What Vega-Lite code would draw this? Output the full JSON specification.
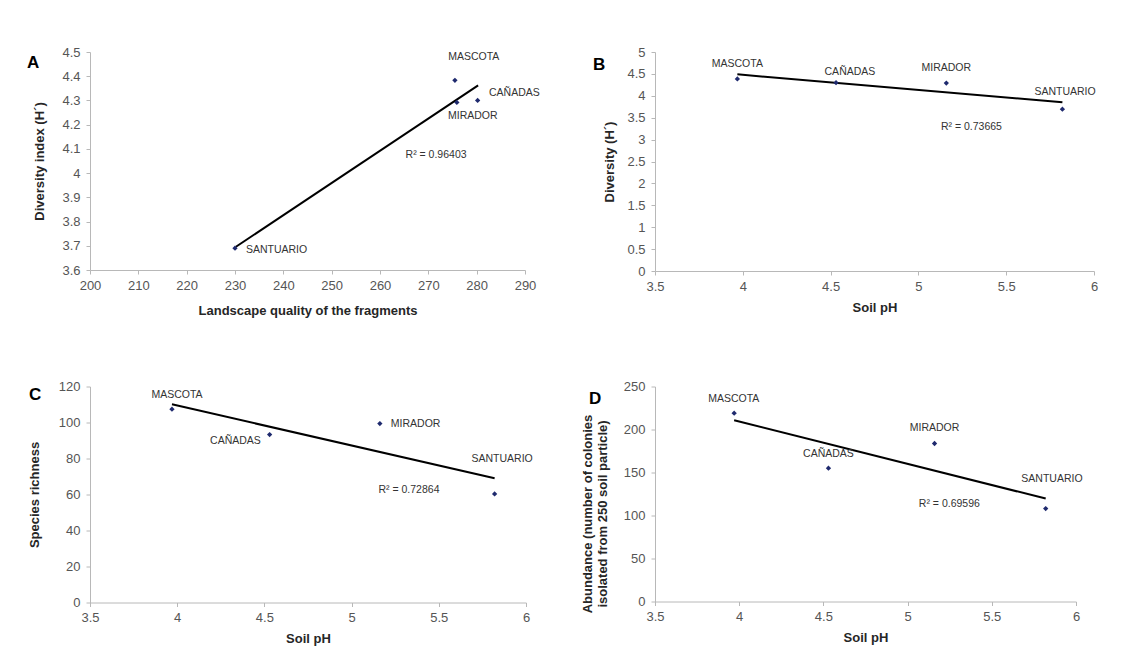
{
  "$schema": "https://vega.github.io/schema/vega-lite/v6.json",
  "background": "white",
  "padding": {"left": 27, "top": 46, "right": 5, "bottom": 5},
  "datasets": {
    "ptsA": [{"site":"MASCOTA","x":275.5,"y":4.383},{"site":"MIRADOR","x":275.9,"y":4.292},{"site":"CAÑADAS","x":280.2,"y":4.30},{"site":"SANTUARIO","x":230.0,"y":3.69}],
    "labA": [{"label":"MASCOTA","x":279.4,"y":4.479},{"label":"CAÑADAS","x":287.8,"y":4.332},{"label":"MIRADOR","x":279.2,"y":4.234},{"label":"SANTUARIO","x":238.6,"y":3.684},{"label":"R² = 0.96403","x":271.6,"y":4.074}],
    "trendA": [{"x":230.2,"y":3.696},{"x":280.3,"y":4.362}],
    "ptsB": [{"site":"MASCOTA","x":3.969,"y":4.386},{"site":"CAÑADAS","x":4.531,"y":4.30},{"site":"MIRADOR","x":5.159,"y":4.29},{"site":"SANTUARIO","x":5.82,"y":3.695}],
    "labB": [{"label":"MASCOTA","x":3.969,"y":4.72},{"label":"CAÑADAS","x":4.61,"y":4.545},{"label":"MIRADOR","x":5.159,"y":4.628},{"label":"SANTUARIO","x":5.835,"y":4.097},{"label":"R² = 0.73665","x":5.302,"y":3.285}],
    "trendB": [{"x":3.969,"y":4.49},{"x":5.82,"y":3.85}],
    "ptsC": [{"site":"MASCOTA","x":3.97,"y":107.4},{"site":"CAÑADAS","x":4.53,"y":93.3},{"site":"MIRADOR","x":5.162,"y":99.4},{"site":"SANTUARIO","x":5.82,"y":60.3}],
    "labC": [{"label":"MASCOTA","x":3.999,"y":115.4},{"label":"CAÑADAS","x":4.334,"y":89.7},{"label":"MIRADOR","x":5.367,"y":99.0},{"label":"SANTUARIO","x":5.863,"y":79.5},{"label":"R² = 0.72864","x":5.329,"y":62.6}],
    "trendC": [{"x":3.97,"y":110.1},{"x":5.82,"y":69.0}],
    "ptsD": [{"site":"MASCOTA","x":3.97,"y":219},{"site":"CAÑADAS","x":4.53,"y":155},{"site":"MIRADOR","x":5.16,"y":183.7},{"site":"SANTUARIO","x":5.82,"y":108}],
    "labD": [{"label":"MASCOTA","x":3.968,"y":235.9},{"label":"CAÑADAS","x":4.53,"y":171.9},{"label":"MIRADOR","x":5.16,"y":201.3},{"label":"SANTUARIO","x":5.857,"y":142.9},{"label":"R² = 0.69596","x":5.248,"y":113}],
    "trendD": [{"x":3.97,"y":210.8},{"x":5.82,"y":119.7}]
  },
  "columns": 2,
  "spacing": {"column": 129, "row": 115.5},
  "bounds": "flush",
  "concat": [
    {
      "width": 435, "height": 218,
      "title": {"text": "A", "anchor": "start", "frame": "group", "orient": "top", "offset": 0, "baseline": "top", "dx": -63, "dy": 26, "fontSize": 17, "fontWeight": "bold", "color": "#000000", "font": "Liberation Sans"},
      "encoding": {
        "x": {"field": "x", "type": "quantitative", "scale": {"domain": [200, 290], "nice": false, "zero": false}, "axis": {"values": [200,210,220,230,240,250,260,270,280,290], "title": "Landscape quality of the fragments", "titlePadding": 12}},
        "y": {"field": "y", "type": "quantitative", "scale": {"domain": [3.6, 4.5], "nice": false, "zero": false}, "axis": {"values": [3.6,3.7,3.8,3.9,4,4.1,4.2,4.3,4.4,4.5], "title": "Diversity index (H´)", "titlePadding": 15}}
      },
      "layer": [
        {"data": {"name": "trendA"}, "mark": {"type": "line", "color": "#000000", "strokeWidth": 2}},
        {"data": {"name": "ptsA"}, "mark": {"type": "point", "shape": "diamond", "filled": true, "color": "#1f2a6e", "size": 28, "opacity": 1}},
        {"data": {"name": "labA"}, "mark": {"type": "text", "fontSize": 10.5, "color": "#333333", "align": "center", "baseline": "middle", "font": "Liberation Sans"}, "encoding": {"text": {"field": "label"}}}
      ]
    },
    {
      "width": 439, "height": 219,
      "title": {"text": "B", "anchor": "start", "frame": "group", "orient": "top", "offset": 0, "baseline": "top", "dx": -62, "dy": 28, "fontSize": 17, "fontWeight": "bold", "color": "#000000", "font": "Liberation Sans"},
      "encoding": {
        "x": {"field": "x", "type": "quantitative", "scale": {"domain": [3.5, 6], "nice": false, "zero": false}, "axis": {"values": [3.5,4,4.5,5,5.5,6], "title": "Soil pH"}},
        "y": {"field": "y", "type": "quantitative", "scale": {"domain": [0, 5], "nice": false}, "axis": {"values": [0,0.5,1,1.5,2,2.5,3,3.5,4,4.5,5], "title": "Diversity  (H´)"}}
      },
      "layer": [
        {"data": {"name": "trendB"}, "mark": {"type": "line", "color": "#000000", "strokeWidth": 2}},
        {"data": {"name": "ptsB"}, "mark": {"type": "point", "shape": "diamond", "filled": true, "color": "#1f2a6e", "size": 28, "opacity": 1}},
        {"data": {"name": "labB"}, "mark": {"type": "text", "fontSize": 10.5, "color": "#333333", "align": "center", "baseline": "middle", "font": "Liberation Sans"}, "encoding": {"text": {"field": "label"}}}
      ]
    },
    {
      "width": 436, "height": 216,
      "title": {"text": "C", "anchor": "start", "frame": "group", "orient": "top", "offset": 0, "baseline": "top", "dx": -61, "dy": 23, "fontSize": 17, "fontWeight": "bold", "color": "#000000", "font": "Liberation Sans"},
      "encoding": {
        "x": {"field": "x", "type": "quantitative", "scale": {"domain": [3.5, 6], "nice": false, "zero": false}, "axis": {"values": [3.5,4,4.5,5,5.5,6], "title": "Soil pH"}},
        "y": {"field": "y", "type": "quantitative", "scale": {"domain": [0, 120], "nice": false}, "axis": {"values": [0,20,40,60,80,100,120], "title": "Species richness", "titlePadding": 17}}
      },
      "layer": [
        {"data": {"name": "trendC"}, "mark": {"type": "line", "color": "#000000", "strokeWidth": 2}},
        {"data": {"name": "ptsC"}, "mark": {"type": "point", "shape": "diamond", "filled": true, "color": "#1f2a6e", "size": 28, "opacity": 1}},
        {"data": {"name": "labC"}, "mark": {"type": "text", "fontSize": 10.5, "color": "#333333", "align": "center", "baseline": "middle", "font": "Liberation Sans"}, "encoding": {"text": {"field": "label"}}}
      ]
    },
    {
      "width": 421, "height": 215,
      "title": {"text": "D", "anchor": "start", "frame": "group", "orient": "top", "offset": 0, "baseline": "top", "dx": -66, "dy": 27, "fontSize": 17, "fontWeight": "bold", "color": "#000000", "font": "Liberation Sans"},
      "encoding": {
        "x": {"field": "x", "type": "quantitative", "scale": {"domain": [3.5, 6], "nice": false, "zero": false}, "axis": {"values": [3.5,4,4.5,5,5.5,6], "title": "Soil pH"}},
        "y": {"field": "y", "type": "quantitative", "scale": {"domain": [0, 250], "nice": false}, "axis": {"values": [0,50,100,150,200,250], "title": ["Abundance (number of colonies", "isolated from 250 soil particle)"], "titleLineHeight": 15, "titlePadding": 14, "titleY": 127}}
      },
      "layer": [
        {"data": {"name": "trendD"}, "mark": {"type": "line", "color": "#000000", "strokeWidth": 2}},
        {"data": {"name": "ptsD"}, "mark": {"type": "point", "shape": "diamond", "filled": true, "color": "#1f2a6e", "size": 28, "opacity": 1}},
        {"data": {"name": "labD"}, "mark": {"type": "text", "fontSize": 10.5, "color": "#333333", "align": "center", "baseline": "middle", "font": "Liberation Sans"}, "encoding": {"text": {"field": "label"}}}
      ]
    }
  ],
  "config": {
    "view": {"stroke": null},
    "font": "Liberation Sans",
    "axis": {
      "grid": false,
      "domainColor": "#b8b8b8",
      "tickColor": "#b8b8b8",
      "tickSize": 4,
      "labelFontSize": 13,
      "labelColor": "#555555",
      "labelFont": "Liberation Sans",
      "labelFlush": false,
      "labelOverlap": false,
      "labelBound": false,
      "labelPadding": 5,
      "labelExpr": "'' + datum.value",
      "titleFont": "Liberation Sans",
      "titleFontSize": 13,
      "titleFontWeight": "bold",
      "titleColor": "#262626"
    },
    "axisX": {"titlePadding": 8},
    "axisY": {"titlePadding": 10, "labelPadding": 6}
  }
}
